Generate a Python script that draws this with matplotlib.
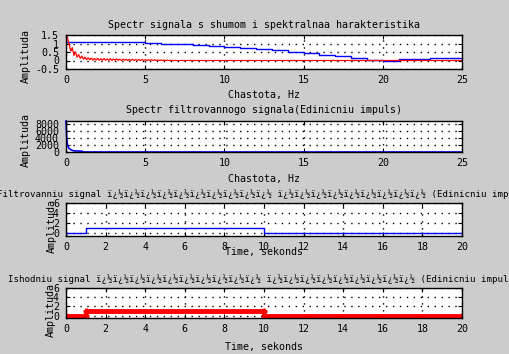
import numpy as np
import matplotlib
matplotlib.use('Agg')
import matplotlib.pyplot as plt

W, H = 509, 354

# spectrum of the noisy signal and the filter characteristic
blue_freq = [0, 1, 2, 3, 4, 5, 6, 7, 8, 9, 10, 11, 12, 13, 14, 15, 16, 17, 18, 19, 20, 21, 22, 23, 24, 25]
blue_amp = [1.10, 1.10, 1.07, 1.07, 1.07, 1.01, 1.00, 0.95, 0.90, 0.85, 0.78, 0.72, 0.66,
            0.59, 0.51, 0.43, 0.34, 0.24, 0.13, 0.05, 0.00, 0.06, 0.07, 0.12, 0.12, 0.12]

red_amp = [1.55, 1.30, 0.95, 0.55, 0.75, 0.30, 0.50, 0.20, 0.35, 0.12, 0.26, 0.08, 0.20,
           0.05, 0.16, 0.04, 0.14, 0.02, 0.12, 0.03, 0.13, 0.01, 0.10, 0.02, 0.12, 0.01,
           0.09, 0.02, 0.11, 0.00, 0.08, 0.02, 0.10, 0.01, 0.07, 0.00, 0.08, 0.02, 0.07,
           0.00, 0.06, 0.01, 0.07, 0.00, 0.05, 0.01, 0.06, 0.00, 0.05, 0.01, 0.05, 0.00,
           0.04, 0.01, 0.04, 0.00, 0.04, 0.00, 0.03, 0.00, 0.03, 0.00, 0.02, 0.00, 0.02,
           0.00, 0.01, 0.00]
red_freq = list(np.round(np.arange(len(red_amp)) * 0.1, 2)) + [25]
red_amp = red_amp + [0.0]

# spectrum of the filtered signal
filt_freq = [0, 0.05, 0.1, 0.2, 0.3, 0.4, 0.5, 0.6, 0.7, 0.8, 0.9, 1.0, 1.1, 25]
filt_amp = [9000, 4000, 1800, 1000, 700, 450, 350, 300, 280, 300, 260, 250, 0, 0]

# unit pulse, time domain
pulse_t = [0, 1, 1, 10, 10, 20]
pulse_y = [0, 0, 1, 1, 0, 0]

moj1 = 'ï¿½' * 10
moj2 = 'ï¿½' * 9

titles = ['Spectr signala s shumom i spektralnaa harakteristika',
          'Spectr filtrovannogo signala(Edinicniu impuls)',
          'Filtrovanniu signal ' + moj1 + ' ' + moj2 + ' (Edinicniu impuls)',
          'Ishodniu signal ' + moj1 + ' ' + moj2 + ' (Edinicniu impuls)']
xlabels = ['Chastota, Hz', 'Chastota, Hz', 'Time, sekonds', 'Time, sekonds']

plt.rcParams['font.family'] = 'DejaVu Sans Mono'
plt.rcParams['font.size'] = 7.2

fig = plt.figure(figsize=(W / 100, H / 100), dpi=100, facecolor='#cccccc')

# axes boxes in pixels: top, bottom
boxes = [(35, 69), (121, 152), (203, 236), (288, 318)]
axs = []
for top, bot in boxes:
    ax = fig.add_axes([66 / W, 1 - bot / H, 396 / W, (bot - top) / H])
    ax.set_facecolor('white')
    for s in ax.spines.values():
        s.set_linewidth(1.0)
        s.set_color('black')
    ax.tick_params(direction='in', length=3, width=0.8, top=True, right=True,
                   pad=4, labelsize=7.2)
    ax.tick_params(axis='y', pad=5)
    ax.grid(True, color='black', linestyle=(0, (1, 4)), linewidth=1.0)
    axs.append(ax)

ax1, ax2, ax3, ax4 = axs

ax1.plot(blue_freq, blue_amp, color='blue', lw=1.0, drawstyle='steps-post')
ax1.plot(red_freq, red_amp, color='red', lw=0.9)
ax1.set_xlim(0, 25)
ax1.set_ylim(-0.5, 1.5)
ax1.set_xticks([0, 5, 10, 15, 20, 25])
ax1.set_yticks([-0.5, 0, 0.5, 1, 1.5])
ax1.set_yticklabels(['-0.5', '0', '0.5', '1', '1.5'])

ax2.plot(filt_freq, filt_amp, color='blue', lw=1.2, clip_on=False)
ax2.set_xlim(0, 25)
ax2.set_ylim(0, 9000)
ax2.set_xticks([0, 5, 10, 15, 20, 25])
ax2.set_yticks([0, 2000, 4000, 6000, 8000])

ax3.plot(pulse_t, pulse_y, color='blue', lw=1.0)
ax3.set_xlim(0, 20)
ax3.set_ylim(-0.5, 6)
ax3.set_xticks(range(0, 21, 2))
ax3.set_yticks([0, 2, 4, 6])

ax4.plot(pulse_t, pulse_y, color='red', lw=3.5, marker='+', markersize=5,
         markeredgewidth=2)
ax4.set_xlim(0, 20)
ax4.set_ylim(-0.5, 6)
ax4.set_xticks(range(0, 21, 2))
ax4.set_yticks([0, 2, 4, 6])

def ftext(x, y, s, **kw):
    fig.text(x / W, 1 - y / H, s, **kw)

title_base = [28, 113, 197, 282]
title_size = [7.2, 7.2, 6.6, 6.6]
xlabel_base = [98, 182, 255, 350]
ylabel_pos = [(26, 56), (26, 140), (52, 226), (51, 310)]
for i in range(4):
    ftext(264, title_base[i], titles[i], ha='center', va='baseline',
          fontsize=title_size[i])
    ftext(264, xlabel_base[i], xlabels[i], ha='center', va='baseline')
    ftext(ylabel_pos[i][0], ylabel_pos[i][1], 'Amplituda', ha='center',
          va='center', rotation=90)

fig.savefig('out.png', dpi=100, facecolor=fig.get_facecolor())
